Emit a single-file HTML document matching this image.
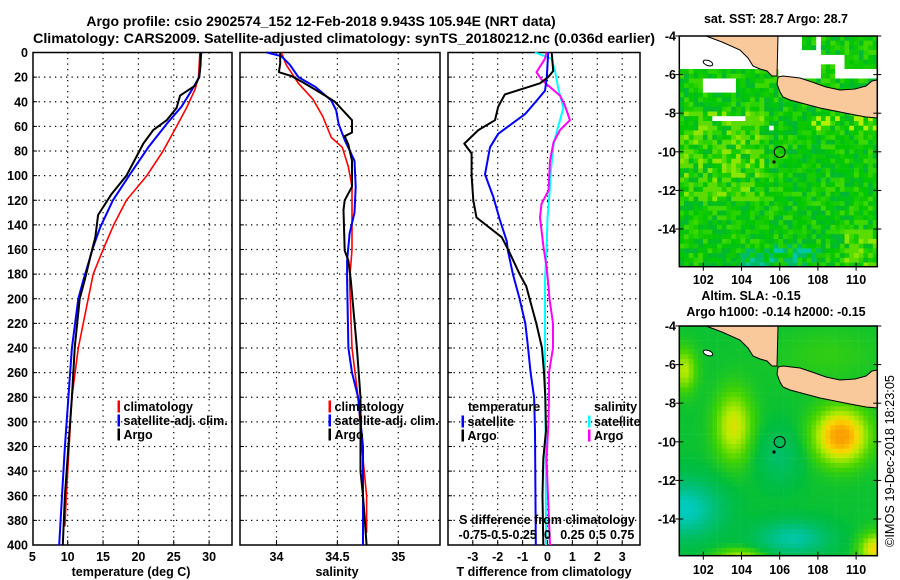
<!DOCTYPE html>
<html><head><meta charset="utf-8"><style>
html,body{margin:0;padding:0;background:#fff;}
svg{display:block;font-family:"Liberation Sans",Arial,sans-serif;}
.b{font-weight:bold;font-size:12.5px;fill:#000;}
.t{font-weight:bold;font-size:14px;fill:#000;}
</style></head><body>
<svg id="chart" width="900" height="580" viewBox="0 0 900 580" xmlns="http://www.w3.org/2000/svg">
<text class="t" x="321" y="26" text-anchor="middle">Argo profile: csio 2902574_152 12-Feb-2018 9.943S 105.94E (NRT data)</text>
<text class="t" x="33" y="43" textLength="622" lengthAdjust="spacingAndGlyphs">Climatology: CARS2009. Satellite-adjusted climatology: synTS_20180212.nc (0.036d earlier)</text>
<g id="plots"></g>
<g id="maps"></g>
<text x="894" y="547" transform="rotate(-90 894 547)" font-size="13" textLength="172" lengthAdjust="spacingAndGlyphs">©IMOS 19-Dec-2018 18:23:05</text>
</svg>
<script>
// ---------- data ----------
const depthTicks=[0,20,40,60,80,100,120,140,160,180,200,220,240,260,280,300,320,340,360,380,400];
const tempTicks=[5,10,15,20,25,30];
const salTicks=[34,34.5,35];
const tdiffTicks=[-3,-2,-1,0,1,2,3];
const sdiffTickLabels=["-0.75","-0.5","-0.25","0","0.25","0.5","0.75"];
const sdiffTicks=[-0.75,-0.5,-0.25,0,0.25,0.5,0.75];

const tArgoDepth=[0,10,20,27,35,45,55,63,74,87,100,115,132,150,166,185,200,239,280,320,360,400];
const tArgo=[28.8,28.8,28.6,28.0,25.9,25.4,24.0,22.1,20.7,19.5,18.3,16.2,14.3,13.9,13.2,12.4,11.7,11.0,10.6,10.1,9.6,9.3];
const tSatDepth=[0,20,31,44,58,77,99,120,142,158,185,200,240,280,320,360,400];
const tSat=[28.9,28.6,27.5,26.1,24.0,21.4,18.8,16.4,14.6,13.6,12.2,11.5,10.6,10.1,9.6,9.2,8.8];
const tClimDepth=[0,20,30,45,60,80,100,120,140,160,180,200,240,280,320,360,385];
const tClim=[28.7,28.5,28.0,26.8,25.4,23.5,21.2,18.3,16.5,15.0,13.6,12.9,11.5,10.6,10.2,9.8,9.6];

const sArgoDepth=[0,9,16,19,25,35,40,55,65,68,75,88,109,120,128,161,169,185,240,280,320,340,360,400];
const sArgo=[34.03,34.03,34.02,34.12,34.23,34.40,34.48,34.62,34.62,34.56,34.59,34.62,34.62,34.56,34.55,34.56,34.59,34.61,34.66,34.69,34.69,34.69,34.71,34.74];
const sSatDepth=[0,3,10,20,28,39,47,58,71,88,109,130,147,169,185,240,260,280,320,400];
const sSat=[33.92,34.04,34.11,34.18,34.32,34.45,34.49,34.51,34.56,34.64,34.65,34.64,34.60,34.58,34.58,34.59,34.62,34.67,34.71,34.71];
const sClimDepth=[0,10,25,38,52,69,77,93,109,130,160,185,240,280,320,360,390];
const sClim=[34.04,34.08,34.18,34.30,34.38,34.45,34.54,34.59,34.62,34.62,34.62,34.60,34.62,34.67,34.70,34.74,34.74];

const dtArgoDepth=[0,15,20,25,34,44,55,63,74,82,100,120,134,150,161,180,190,200,220,240,260,280,307,330,360,400];
const dtArgo=[0.17,0.23,0.03,-0.30,-1.71,-1.98,-2.11,-2.78,-3.34,-3.05,-3.05,-2.98,-2.85,-1.84,-1.56,-1.12,-0.85,-0.72,-0.45,-0.22,-0.14,-0.09,-0.06,-0.17,-0.2,-0.17];
const dtSatDepth=[0,20,31,39,50,58,66,77,99,117,136,153,161,180,200,220,240,260,280,307,400];
const dtSat=[0.03,-0.03,-0.1,-0.43,-0.9,-1.44,-1.98,-2.31,-2.51,-2.18,-1.91,-1.64,-1.59,-1.39,-1.12,-0.89,-0.78,-0.68,-0.54,-0.5,-0.47];
const dsArgoDepth=[0,5,16,22,27,35,43,55,63,73,88,112,123,134,158,174,190,200,220,240,260,280,300,330,400];
const dsArgo=[-0.01,-0.025,-0.11,-0.06,0.01,0.125,0.175,0.225,0.125,0.06,0.025,0.01,-0.06,-0.075,-0.04,-0.01,0.01,0.02,0.055,0.055,0.015,0.015,0.01,-0.01,0.025];
const dsSatDepth=[0,5,15,30,45,55,65,75,95,115,135,160,185,250,300,400];
const dsSat=[-0.125,0.04,0.075,0.11,0.16,0.125,0.09,0.06,0.035,0.02,0,-0.01,-0.025,-0.025,-0.02,-0.015];

// ---------- helpers ----------
const NS="http://www.w3.org/2000/svg";
function mk(tag,attrs,parent){const e=document.createElementNS(NS,tag);for(const k in attrs)e.setAttribute(k,attrs[k]);parent.appendChild(e);return e;}
const TOP=52.5,BOT=545;
const yD=d=>TOP+(d/400)*(BOT-TOP);
const xT=v=>67.7+(v-10)*7.07;
const xS=v=>276.5+(v-34)*121.8;
const xDT=v=>547.5+v*24.9;
const xDS=v=>547.5+v*99.6;
const plots=document.getElementById('plots');

function panel(name,x0,x1,gridX){
  const g=mk('g',{},plots);
  
  
  depthTicks.forEach((d,i)=>{ if(i>0&&i<depthTicks.length-1){
    const l=mk('line',{x1:x0,x2:x1,y1:yD(d),y2:yD(d),stroke:'#000','stroke-width':1.2,'stroke-dasharray':'1.3 4.2'},g);
    
    
    const tk=mk('line',{x1:x0,x2:x0+4,y1:yD(d),y2:yD(d),stroke:'#000'},g);
    
    
  }});
  gridX.forEach(x=>{
    const l=mk('line',{x1:x,x2:x,y1:TOP,y2:BOT,stroke:'#000','stroke-width':1.2,'stroke-dasharray':'1.3 4.2'},g);
    
    
    const tk=mk('line',{x1:x,x2:x,y1:BOT,y2:BOT-5,stroke:'#000'},g);
    
    
  });
  const r=mk('rect',{x:x0,y:TOP,width:x1-x0,height:BOT-TOP,fill:'none',stroke:'#000','stroke-width':1.5},g);
  
  
  return g;
}
function series(g,name,depths,vals,xf,color,w){
  const pts=depths.map((d,i)=>xf(vals[i]).toFixed(1)+','+yD(d).toFixed(1)).join(' ');
  const p=mk('polyline',{points:pts,fill:'none',stroke:color,'stroke-width':w,'stroke-linejoin':'round'},g);
  
  
}
function txt(g,name,x,y,s,anchor,cls,extra){
  const t=mk('text',Object.assign({x:x,y:y,'text-anchor':anchor||'start',class:cls||'b'},extra||{}),g);
  t.textContent=s;
  
  
  return t;
}
function legend(g,name,x,y,color,label){
  const r=mk('rect',{x:x,y:y-6,width:2.5,height:12,fill:color},g);
  
  
  txt(g,name+'-label',x+6,y+4.5,label);
}

// Panel 1: temperature
const p1=panel('temperature-panel',33,232,tempTicks.slice(1).map(xT));
series(p1,'temp-climatology-line',tClimDepth,tClim,xT,'#ff0000',1.6);
series(p1,'temp-satellite-line',tSatDepth,tSat,xT,'#0000ff',2);
series(p1,'temp-argo-line',tArgoDepth,tArgo,xT,'#000000',2);
depthTicks.forEach(d=>txt(p1,'depth-tick-label',28,yD(d)+4.5,String(d),'end'));
tempTicks.forEach(v=>txt(p1,'temp-tick-label',xT(v),561,String(v),'middle'));
txt(p1,'temp-axis-title',131,576,'temperature (deg C)','middle');
legend(p1,'legend-climatology',117.5,406.5,'#ff0000','climatology');
legend(p1,'legend-satellite-adj',117.5,420.5,'#0000ff','satellite-adj. clim.');
legend(p1,'legend-argo',117.5,434.5,'#000000','Argo');

// Panel 2: salinity
const p2=panel('salinity-panel',240,440,salTicks.map(xS));
series(p2,'sal-climatology-line',sClimDepth,sClim,xS,'#ff0000',1.6);
series(p2,'sal-satellite-line',sSatDepth,sSat,xS,'#0000ff',2);
series(p2,'sal-argo-line',sArgoDepth,sArgo,xS,'#000000',2);
salTicks.forEach(v=>txt(p2,'sal-tick-label',xS(v),561,String(v),'middle'));
txt(p2,'sal-axis-title',337,576,'salinity','middle');
legend(p2,'legend-climatology',328.5,406.5,'#ff0000','climatology');
legend(p2,'legend-satellite-adj',328.5,420.5,'#0000ff','satellite-adj. clim.');
legend(p2,'legend-argo',328.5,434.5,'#000000','Argo');

// Panel 3: differences
const p3=panel('difference-panel',448,640,tdiffTicks.map(xDT));
series(p3,'sdiff-satellite-line',dsSatDepth,dsSat,xDS,'#00ffff',2);
series(p3,'sdiff-argo-line',dsArgoDepth,dsArgo,xDS,'#ff00ff',2);
series(p3,'tdiff-satellite-line',dtSatDepth,dtSat,xDT,'#0000ff',2);
series(p3,'tdiff-argo-line',dtArgoDepth,dtArgo,xDT,'#000000',2);
tdiffTicks.forEach(v=>txt(p3,'tdiff-tick-label',xDT(v),561,String(v),'middle'));
txt(p3,'tdiff-axis-title',544,576,'T difference from climatology','middle');
txt(p3,'sdiff-axis-title',547,524,'S difference from climatology','middle');
sdiffTicks.forEach((v,i)=>txt(p3,'sdiff-tick-label',xDS(v),539,sdiffTickLabels[i],'middle'));
txt(p3,'legend-temperature-heading',468,411,'temperature');
legend(p3,'legend-t-satellite',461.5,421.5,'#0000ff','satellite');
legend(p3,'legend-t-argo',461.5,435.5,'#000000','Argo');
txt(p3,'legend-salinity-heading',594,411,'salinity');
legend(p3,'legend-s-satellite',588,421.5,'#00ffff','satellite');
legend(p3,'legend-s-argo',588,435.5,'#ff00ff','Argo');

// ---------- maps ----------
const maps=document.getElementById('maps');
const MX0=679.3,MX1=877.3;
const xLon=l=>703.3+(l-102)*19.1;
function hash(i,j){let h=(i*374761393+j*668265263)^0x5bd1e995;h=(h^(h>>>13))*1274126177;h=h^(h>>>16);return ((h>>>0)%1000)/1000;}
function landPaths(g,dy){
  const sum=[[706,36],[722,42],[740,50],[748,58],[753,66],[760,69],[767,71],[772,76],[777,76],[778,36]];
  const java=[[778,77],[783,76],[800,78],[812,82],[826,87],[840,90],[855,89],[866,86],[872,81],[877.3,80],[877.3,118],[866,117],[850,114],[835,111],[820,108],[805,104],[790,100],[783,97],[780,92],[777,84]];
  [['sumatra-land',sum],['java-land',java]].forEach(([n,pts])=>{
    const p=mk('polygon',{points:pts.map(q=>q[0]+','+(q[1]+dy)).join(' '),fill:'#f9c99b',stroke:'#000','stroke-width':1},g);
    
    
  });
  const isl=mk('ellipse',{cx:708,cy:63+dy,rx:5,ry:2.5,fill:'#fff',stroke:'#000','stroke-width':1,transform:'rotate(20 708 '+(63+dy)+')'},g);
  
  
  const c=mk('circle',{cx:xLon(106),cy:152+dy,r:5.5,fill:'none',stroke:'#000','stroke-width':1},g);
  
  
  const s=mk('circle',{cx:774,cy:162+dy,r:1.6,fill:'#000'},g);
  
  
}
function mapAxes(g,top,bot,labelY){
  const fr=mk('rect',{x:MX0,y:top,width:MX1-MX0,height:bot-top,fill:'none',stroke:'#000','stroke-width':1.5},g);
  
  
  [-4,-6,-8,-10,-12,-14].forEach(l=>{
    const y=top+(-4-l)*19.3;
    txt(g,'lat-tick-label',676,y+4.5,String(l),'end');
    const t1=mk('line',{x1:MX0-4,x2:MX0+4,y1:y,y2:y,stroke:'#000'},g);
    
    
    const t2=mk('line',{x1:MX1-4,x2:MX1+4,y1:y,y2:y,stroke:'#000'},g);
    
    
  });
  [102,104,106,108,110].forEach(l=>{
    txt(g,'lon-tick-label',xLon(l),labelY,String(l),'middle');
    const t=mk('line',{x1:xLon(l),x2:xLon(l),y1:bot-4,y2:bot+4,stroke:'#000'},g);
    
    
  });
}
// Map 1: SST
(function(){
  const g=mk('g',{},maps);
  
  
  const top=36,bot=266.7,cs=4.72;
  const pal=['#00c800','#14cc00','#28d400','#00bb22','#3cd800','#00c414','#0cc800','#00b832'];
  const greenBlocks=[[802,36,12,13],[820,36,22,15],[840,36,34,30],[817,62,14,16]];
  for(let j=0;j*cs<bot-top;j++)for(let i=0;i*cs<MX1-MX0;i++){
    const x=MX0+i*cs,y=top+j*cs;
    let white=false;
    if(y<68&&x<780)white=true;
    if(x>=778&&y<78){white=!greenBlocks.some(b=>x>=b[0]&&x<b[0]+b[2]&&y>=b[1]&&y<b[1]+b[3]);}
    if(x>=700&&x<732&&y>=77&&y<88)white=true;
    if(x>=708&&x<742&&y>=112&&y<117)white=true;
    if(x>=767&&x<773&&y>=123&&y<126)white=true;
    let col;
    if(white)col='#ffffff';
    else{
      const h=hash(i,j);
      col=pal[Math.floor(h*pal.length)];
      if(((x<760&&y>110&&y<200)||(x>840&&y>225))&&h>0.55)col=(h>0.85?'#8ce600':'#5adc00');
      if(y>240&&x>740&&x<820&&h>0.4)col=(h>0.8?'#00c8a0':'#00bc64');
      if(y>112&&y<130&&x>810&&h>0.6)col='#b4f000';
    }
    const r=mk('rect',{x:x.toFixed(1),y:y.toFixed(1),width:(Math.min(cs,MX1-x)+0.3).toFixed(1),height:(Math.min(cs,bot-y)+0.3).toFixed(1),fill:col},g);
    
    
  }
  landPaths(g,0);
  mapAxes(g,top,bot,284);
  txt(g,'sst-map-title',776,23,'sat. SST: 28.7 Argo: 28.7','middle');
})();
// Map 2: SLA
(function(){
  const g=mk('g',{},maps);
  
  
  const top=326,bot=555.7,cs=4.72;
  const blobs=[[103.6,-9.2,0.65,0.7,1.3],[109.2,-9.7,1.05,1.0,1.0],[101,-6.3,0.55,0.45,0.8],[101,-13.5,-1.0,1.3,1.0],[106.7,-15,-0.8,1.3,0.6],[106,-10.8,-0.35,0.8,1.0],[111,-15.6,0.75,0.6,0.6],[104,-15.9,0.5,1.0,0.3],[108.5,-5.5,0.15,2,1]];
  const stops=[[-1,[0,205,200]],[-0.5,[0,192,130]],[0,[0,190,60]],[0.3,[70,212,0]],[0.6,[185,235,0]],[0.8,[250,215,0]],[1.05,[250,160,0]]];
  function cmap(v){v=Math.max(-1,Math.min(1.05,v));for(let k=1;k<stops.length;k++){if(v<=stops[k][0]){const a=stops[k-1],b=stops[k];const t=(v-a[0])/(b[0]-a[0]);return 'rgb('+a[1].map((c,m)=>Math.round(c+(b[1][m]-c)*t)).join(',')+')';}}return 'rgb(250,160,0)';}
  for(let j=0;j*cs<bot-top;j++)for(let i=0;i*cs<MX1-MX0;i++){
    const x=MX0+i*cs,y=top+j*cs;
    const lon=102+(x+cs/2-703.3)/19.1,lat=-4-(y+cs/2-top)/19.3;
    let v=0.05;
    blobs.forEach(b=>{const dx=(lon-b[0])/b[3],dy2=(lat-b[1])/b[4];v+=b[2]*Math.exp(-(dx*dx+dy2*dy2)/2);});
    const r=mk('rect',{x:x.toFixed(1),y:y.toFixed(1),width:(Math.min(cs,MX1-x)+0.3).toFixed(1),height:(Math.min(cs,bot-y)+0.3).toFixed(1),fill:cmap(v)},g);
    
    
  }
  landPaths(g,290);
  mapAxes(g,top,bot,574);
  txt(g,'sla-map-title',751,300,'Altim. SLA: -0.15','middle');
  txt(g,'sla-map-subtitle',776,316,'Argo h1000: -0.14 h2000: -0.15','middle');
})();
</script>
</body></html>
